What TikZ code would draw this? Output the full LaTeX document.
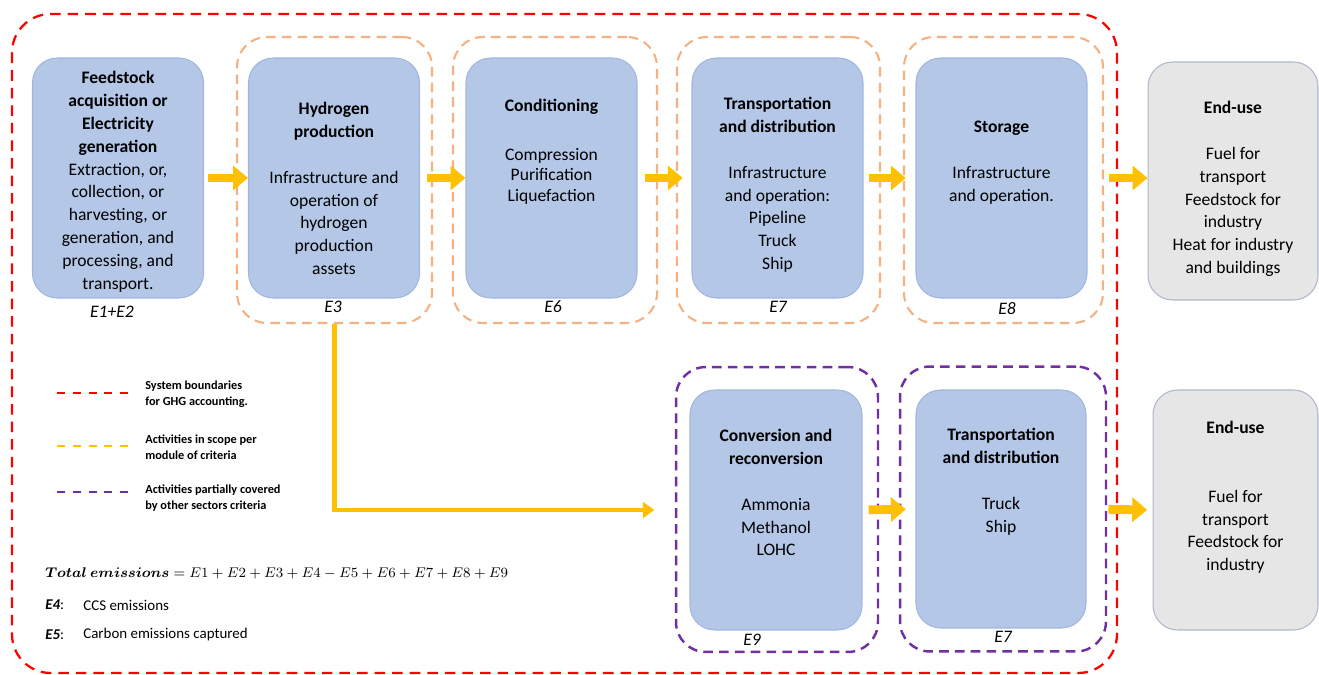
\documentclass[tikz,border=0pt]{standalone}
\usepackage{fontspec}
\setmainfont{Carlito}
\usepackage{amsmath}
\usepackage{bm}
\usetikzlibrary{arrows.meta,positioning}

\definecolor{boxblue}{HTML}{B4C7E7}
\definecolor{boxedge}{HTML}{9FB6DD}
\definecolor{usegray}{HTML}{E7E6E6}
\definecolor{useedge}{HTML}{ADB9CA}
\definecolor{scopeorange}{HTML}{F4B183}
\definecolor{sysred}{HTML}{FF0000}
\definecolor{partpurple}{HTML}{7030A0}
\definecolor{flowyellow}{HTML}{FFC000}

\begin{document}
\begin{tikzpicture}[x=0.02cm,y=-0.02cm,
  block/.style={draw=boxedge,fill=boxblue,line width=0.6pt,rounded corners=14pt,minimum width=3.42cm,minimum height=4.8cm},
  enduse/.style={draw=useedge,fill=usegray,line width=0.6pt,rounded corners=14pt,minimum height=4.76cm},
  blocktext/.style={anchor=north,align=center,inner sep=0pt,font=\fontsize{10}{13}\selectfont},
  scopebox/.style={draw=scopeorange,line width=1.2pt,dash pattern=on 5.5pt off 3.5pt,rounded corners=17pt,minimum height=5.72cm},
  partbox/.style={draw=partpurple,line width=1.4pt,dash pattern=on 5.5pt off 3.5pt,rounded corners=17pt,minimum height=5.7cm},
  elabel/.style={font=\fontsize{10}{12}\selectfont\itshape,inner sep=1pt},
  flow/.style={draw=flowyellow,line width=5pt,-{Triangle[width=13.6pt,length=8.5pt]}},
  legline/.style={line width=1.5pt,dash pattern=on 4.5pt off 4.5pt},
  legtext/.style={anchor=west,align=left,inner sep=0pt,font=\fontsize{7}{9}\selectfont\bfseries},
  notetext/.style={anchor=west,inner sep=0pt,font=\fontsize{8.5}{10}\selectfont}
]
\useasboundingbox (0,0) rectangle (1319,675);

% system boundary
\draw[sysred,line width=1.3pt,dash pattern=on 6pt off 4pt,rounded corners=22pt] (12,14) rectangle (1117,673);

% scope of criteria
\node[scopebox,minimum width=3.9cm] (scopeprod) at (334.5,180) {};
\node[scopebox,minimum width=4.08cm] (scopecond) at (555,180) {};
\node[scopebox,minimum width=4.06cm] (scopetrans) at (778.5,180) {};
\node[scopebox,minimum width=3.98cm] (scopestore) at (1003.5,180) {};
\node[partbox,minimum width=4.04cm] (scopeconv) at (777,509.5) {};
\node[partbox,minimum width=4.12cm] (scopeship) at (1003,509) {};

% upper chain
\node[block] (feed) at (118,178) {};
\node[blocktext] (feedtxt) at (118,71) {\textbf{Feedstock}\\\textbf{acquisition or}\\\textbf{Electricity}\\\textbf{generation}\\Extraction, or,\\collection, or\\harvesting, or\\generation, and\\processing, and\\transport.};
\node[block] (prod) at (334,178) {};
\node[blocktext] (prodtxt) at (334,102) {\textbf{Hydrogen}\\\textbf{production}\\[13pt]Infrastructure and\\operation of\\hydrogen\\production\\assets};
\node[block] (cond) at (551.5,178) {};
\node[blocktext] (condtxt) at (551.5,99) {\textbf{Conditioning}\\[14.8pt]Compression\\[-1.4pt]Purification\\[-1.4pt]Liquefaction};
\node[block] (trans) at (777.5,178) {};
\node[blocktext] (transtxt) at (777.5,97) {\textbf{Transportation}\\\textbf{and distribution}\\[13pt]Infrastructure\\and operation:\\Pipeline\\Truck\\Ship};
\node[block] (store) at (1001.5,178) {};
\node[blocktext] (storetxt) at (1001.5,121) {\textbf{Storage}\\[13pt]Infrastructure\\and operation.};
\node[enduse,minimum width=3.4cm] (useup) at (1233,181) {};
\node[blocktext] (useuptxt) at (1233,101) {\textbf{End-use}\\[13pt]Fuel for\\transport\\Feedstock for\\industry\\Heat for industry\\and buildings};

% lower chain
\node[block,minimum width=3.44cm] (conv) at (776,510) {};
\node[blocktext] (convtxt) at (776,429) {\textbf{Conversion and}\\\textbf{reconversion}\\[13pt]Ammonia\\Methanol\\LOHC};
\node[block,minimum width=3.4cm,minimum height=4.76cm] (ship) at (1001,509) {};
\node[blocktext] (shiptxt) at (1001,428) {\textbf{Transportation}\\\textbf{and distribution}\\[13pt]Truck\\Ship};
\node[enduse,minimum width=3.3cm,minimum height=4.8cm] (uselow) at (1235.5,510) {};
\node[blocktext] (uselowtxt) at (1235.5,421) {\textbf{End-use}\\[26pt]Fuel for\\transport\\Feedstock for\\industry};

% emission labels
\node[elabel] (efeed) at (112,312) {E1+E2};
\node[elabel] (eprod) at (333,307) {E3};
\node[elabel] (econd) at (553,307) {E6};
\node[elabel] (etrans) at (778,307) {E7};
\node[elabel] (estore) at (1007,309) {E8};
\node[elabel] (econv) at (752,640) {E9};
\node[elabel] (eship) at (1003,637) {E7};

% flows
\draw[flow,shorten <=2.3pt] (feed.east) -- (prod.west);
\draw[flow,shorten <=4pt] (prod.east) -- (cond.west);
\draw[flow,shorten <=4pt,shorten >=5pt] (cond.east) -- (trans.west);
\draw[flow,shorten <=3pt,shorten >=5.5pt] (trans.east) -- (store.west);
\draw[flow,shorten <=12pt] (store.east) -- (store.east -| useup.west);
\draw[flow,shorten <=3.5pt,shorten >=5.5pt] (conv.east) -- (ship.west);
\draw[flow,shorten <=12.5pt,shorten >=3pt] (ship.east) -- (uselow.west);
\draw[draw=flowyellow,line width=2.8pt,-{Triangle[width=9pt,length=6.5pt]}] (scopeprod.south) |- ([xshift=-20pt]conv.west);

% legend
\draw[legline,sysred] (57,393) -- (128,393);
\node[legtext] (legsys) at (145,394.5) {System boundaries\\for GHG accounting.};
\draw[legline,flowyellow] (57,446) -- (128,446);
\node[legtext] (legscope) at (145,447) {Activities in scope per\\module of criteria};
\draw[legline,partpurple] (57,492) -- (128,492);
\node[legtext] (legpart) at (145,498) {Activities partially covered\\by other sectors criteria};

% totals
\node[anchor=west,inner sep=0pt,font=\fontsize{8.4}{10}\selectfont] (total) at (45,573) {$\boldsymbol{Total\ emissions} = E1+E2+E3+E4-E5+E6+E7+E8+E9$};
\node[notetext] (ccskey) at (45,605) {\textbf{\textit{E4}}:};
\node[notetext] (ccs) at (83,605) {CCS emissions};
\node[notetext] (capkey) at (45,635) {\textbf{\textit{E5}}:};
\node[notetext] (cap) at (83,635) {Carbon emissions captured};
\end{tikzpicture}
\end{document}
